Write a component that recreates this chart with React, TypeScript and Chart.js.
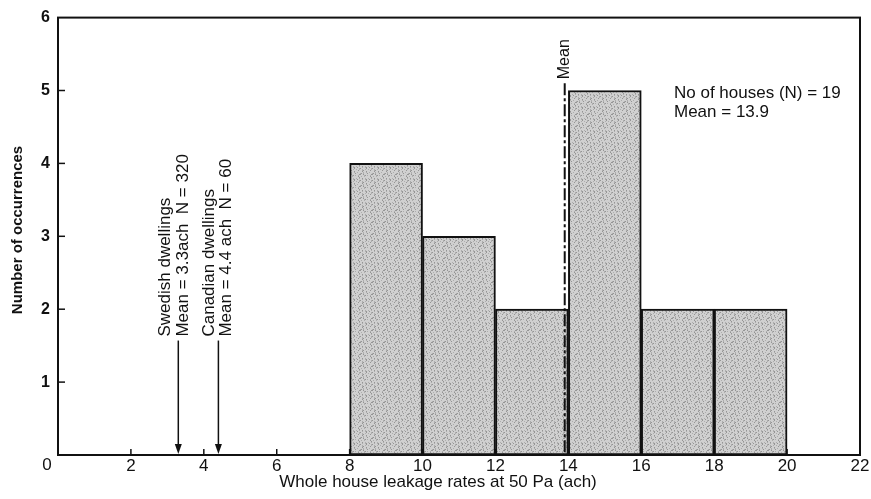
import React, { useEffect, useRef } from "react";
import { Chart, registerables } from "chart.js";

Chart.register(...registerables);

const binStarts = [8, 10, 12, 14, 16, 18];
const binWidth = 2;
const counts = [4, 3, 2, 5, 2, 2];
const xTicks = [0, 2, 4, 6, 8, 10, 12, 14, 16, 18, 20, 22];
const yTicks = [0, 1, 2, 3, 4, 5, 6];
const meanValue = 13.9;
const meanLineTop = 5.1;
const refMeans = [3.3, 4.4];
const refArrowTop = 1.57;
const refLabels = [
  ["Swedish dwellings", "Mean = 3.3ach  N = 320"],
  ["Canadian dwellings", "Mean = 4.4 ach  N = 60"],
];
const infoLines = ["No of houses (N) = 19", "Mean = 13.9"];
const xTitle = "Whole house leakage rates at 50 Pa (ach)";
const yTitle = "Number of occurrences";

const FONT = "'Liberation Sans', Arial, sans-serif";

function makePattern(): CanvasPattern | string {
  const c = document.createElement("canvas");
  c.width = 12;
  c.height = 12;
  const g = c.getContext("2d");
  if (!g) return "#c6c6c6";
  g.fillStyle = "#d0d0d0";
  g.fillRect(0, 0, 12, 12);
  g.fillStyle = "#959595";
  for (let i = 0; i < 12; i++) {
    for (let j = 0; j < 12; j++) {
      const h = (i * 7 + j * 13 + ((i * j) % 5)) % 6;
      if (h === 0) g.fillRect(i, j, 1, 1);
    }
  }
  g.fillStyle = "#adadad";
  for (let i = 0; i < 12; i++) {
    for (let j = 0; j < 12; j++) {
      const h = (i * 5 + j * 3 + ((i + j) % 4)) % 7;
      if (h === 2) g.fillRect(i, j, 1, 1);
    }
  }
  const p = g.createPattern(c, "repeat");
  return p || "#c6c6c6";
}

const decorPlugin = {
  id: "decor",
  beforeDatasetsDraw(chart: any) {
    const { ctx, scales } = chart;
    const xs = scales.x;
    const ys = scales.y;
    const area = chart.chartArea;
    ctx.save();
    ctx.strokeStyle = "#111";
    ctx.lineWidth = 1.5;
    yTicks.forEach((v) => {
      if (v === 0 || v === 6) return;
      const py = ys.getPixelForValue(v);
      ctx.beginPath();
      ctx.moveTo(area.left, py);
      ctx.lineTo(area.left + 7, py);
      ctx.stroke();
    });
    xTicks.forEach((v) => {
      if (v === 0 || v === 22) return;
      const px = xs.getPixelForValue(v);
      ctx.beginPath();
      ctx.moveTo(px, area.bottom);
      ctx.lineTo(px, area.bottom - 6);
      ctx.stroke();
    });
    ctx.restore();
  },
  afterDatasetsDraw(chart: any) {
    const { ctx, scales } = chart;
    const xs = scales.x;
    const ys = scales.y;
    const area = chart.chartArea;
    ctx.save();
    ctx.strokeStyle = "#111";
    ctx.lineWidth = 2;
    ctx.strokeRect(area.left, area.top, area.right - area.left, area.bottom - area.top);

    const mx = xs.getPixelForValue(meanValue);
    const mTop = ys.getPixelForValue(meanLineTop);
    ctx.setLineDash([12, 3, 3, 3]);
    ctx.lineWidth = 2;
    ctx.beginPath();
    ctx.moveTo(mx, mTop);
    ctx.lineTo(mx, area.bottom);
    ctx.stroke();
    ctx.setLineDash([]);

    ctx.fillStyle = "#111";
    ctx.font = `16px ${FONT}`;
    ctx.textBaseline = "middle";
    ctx.textAlign = "left";
    ctx.save();
    ctx.translate(mx, mTop - 4);
    ctx.rotate(-Math.PI / 2);
    ctx.fillText("Mean", 0, 0);
    ctx.restore();

    const offsets = [
      [-13, 5],
      [-9, 8],
    ];
    refMeans.forEach((v, k) => {
      const px = xs.getPixelForValue(v);
      const top = ys.getPixelForValue(refArrowTop);
      const bot = area.bottom;
      ctx.lineWidth = 1.5;
      ctx.beginPath();
      ctx.moveTo(px, top);
      ctx.lineTo(px, bot - 8);
      ctx.stroke();
      ctx.beginPath();
      ctx.moveTo(px - 3.5, bot - 11);
      ctx.lineTo(px + 3.5, bot - 11);
      ctx.lineTo(px, bot - 1);
      ctx.closePath();
      ctx.fill();
      refLabels[k].forEach((line, li) => {
        ctx.save();
        ctx.translate(px + offsets[k][li], top - 4);
        ctx.rotate(-Math.PI / 2);
        ctx.font = `17px ${FONT}`;
        ctx.fillText(line, 0, 0);
        ctx.restore();
      });
    });

    ctx.font = `17px ${FONT}`;
    ctx.textBaseline = "alphabetic";
    ctx.fillText(infoLines[0], 674, 98);
    ctx.fillText(infoLines[1], 674, 117);

    ctx.textAlign = "center";
    ctx.font = `17px ${FONT}`;
    ctx.fillText(xTitle, 438, 487);
    ctx.save();
    ctx.translate(22, 230);
    ctx.rotate(-Math.PI / 2);
    ctx.font = `bold 15px ${FONT}`;
    ctx.fillText(yTitle, 0, 0);
    ctx.restore();

    ctx.font = `17px ${FONT}`;
    ctx.textBaseline = "middle";
    ctx.fillText("0", 47, 465);
    ctx.restore();
  },
};

export default function App() {
  const ref = useRef<HTMLCanvasElement | null>(null);
  useEffect(() => {
    if (!ref.current) return;
    const pattern = makePattern();
    const chart = new Chart(ref.current, {
      type: "bar",
      data: {
        datasets: [
          {
            data: binStarts.map((s, i) => ({ x: s + binWidth / 2, y: counts[i] })),
            backgroundColor: pattern as any,
            borderColor: "#111",
            borderWidth: 2,
            barPercentage: 1,
            categoryPercentage: 1,
            borderSkipped: false,
          },
        ],
      },
      options: {
        responsive: false,
        animation: false,
        events: [],
        layout: { padding: { top: 15, right: 11, left: 0, bottom: 0 } },
        plugins: { legend: { display: false }, tooltip: { enabled: false } },
        scales: {
          x: {
            type: "linear",
            min: 0,
            max: 22,
            offset: false,
            afterFit: (s: any) => {
              s.height = 44;
            },
            afterBuildTicks: (s: any) => {
              s.ticks = xTicks.map((v) => ({ value: v }));
            },
            grid: { display: false, offset: false, drawTicks: false },
            border: { display: false },
            ticks: {
              padding: 1,
              color: "#111",
              font: { family: FONT, size: 17 },
              callback: (v: any) => (v === 0 ? "" : String(v)),
            },
          },
          y: {
            min: 0,
            max: 6,
            afterFit: (s: any) => {
              s.width = 58;
            },
            afterBuildTicks: (s: any) => {
              s.ticks = yTicks.map((v) => ({ value: v }));
            },
            grid: { display: false, drawTicks: false },
            border: { display: false },
            ticks: {
              padding: 8,
              color: "#111",
              font: { family: FONT, size: 16, weight: "bold" },
              callback: (v: any) => (v === 0 ? "" : String(v)),
            },
          },
        },
      },
      plugins: [decorPlugin],
    });
    return () => chart.destroy();
  }, []);
  return (
    <div style={{ position: "fixed", left: 0, top: 0, width: 871, height: 499, background: "#fff" }}>
      <canvas ref={ref} width={871} height={499} style={{ display: "block" }} />
    </div>
  );
}
